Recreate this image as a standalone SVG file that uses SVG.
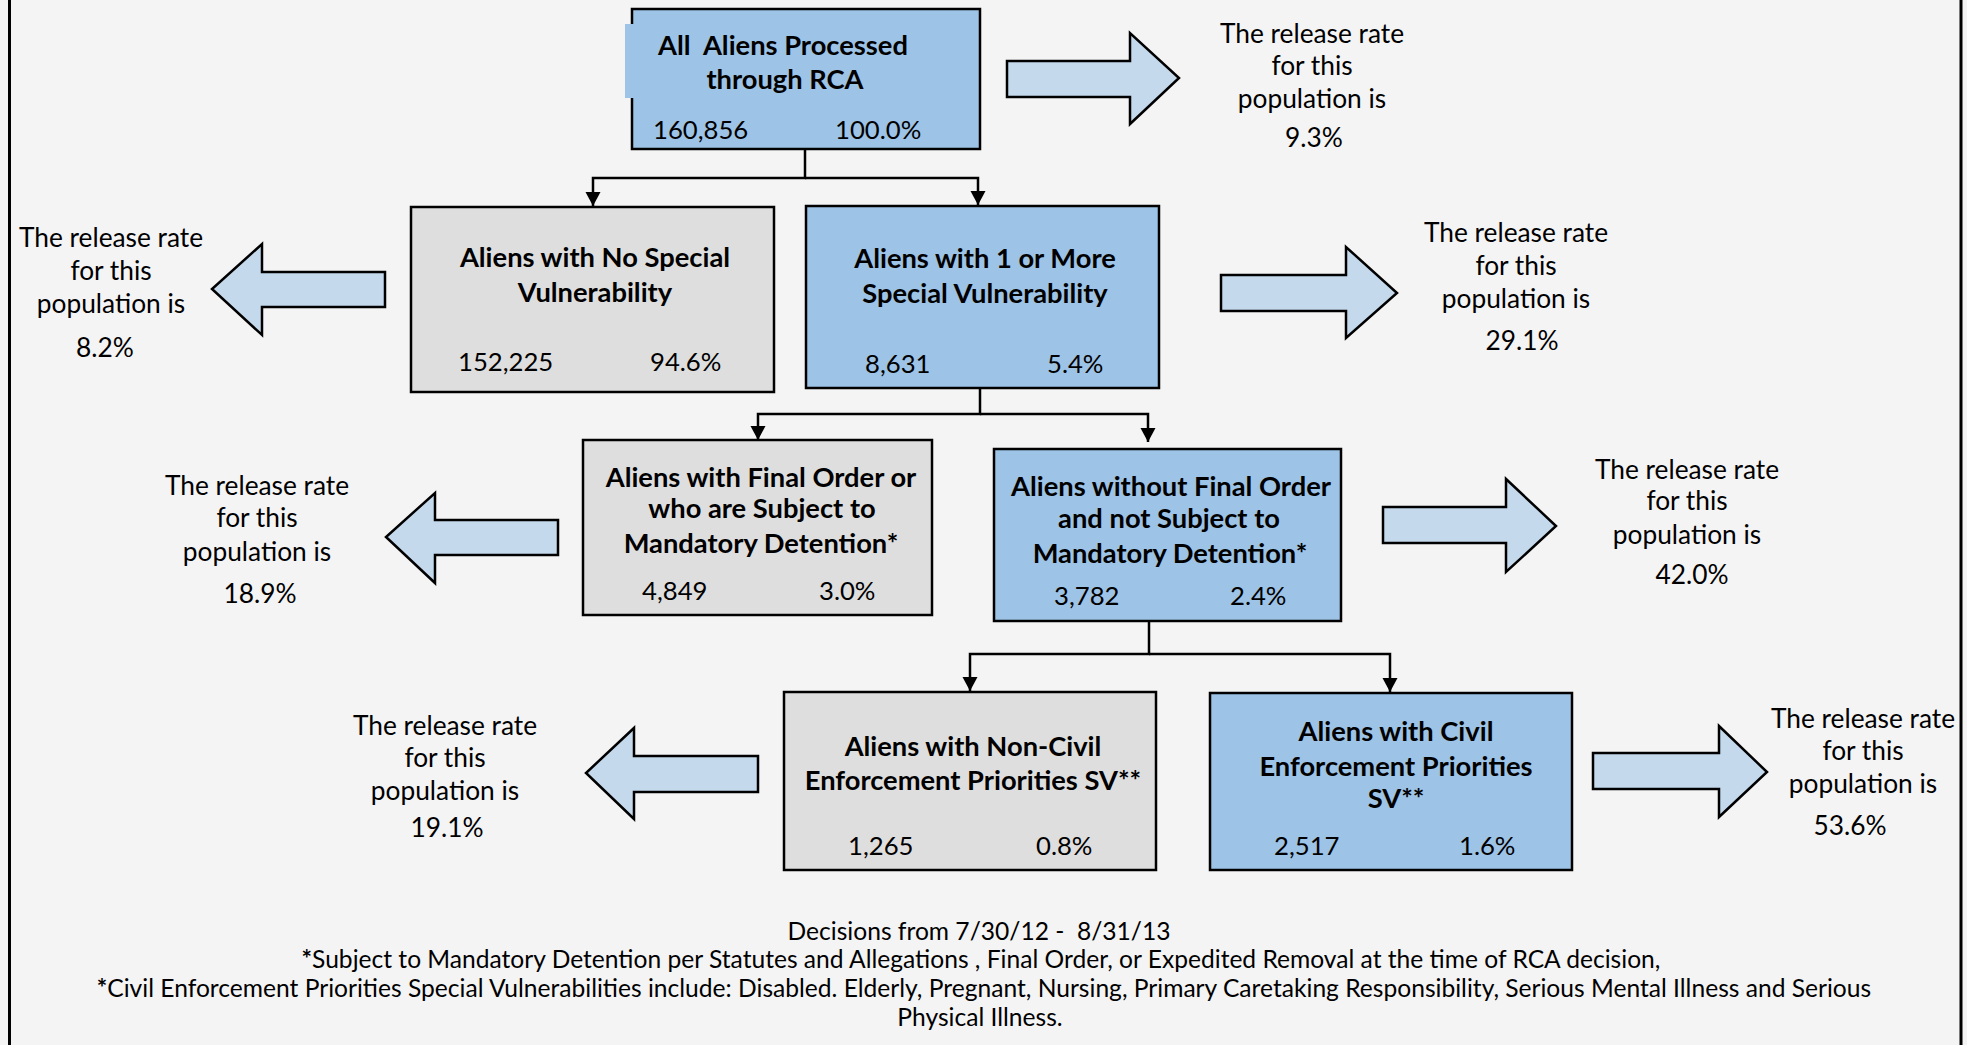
<svg xmlns="http://www.w3.org/2000/svg" width="1967" height="1045" viewBox="0 0 1967 1045">
<defs>
<style>
text{font-family:Lato,"Liberation Sans",sans-serif;fill:#000;white-space:pre;}
.rt{font-size:26.3px;text-anchor:middle;}
.tt{font-size:27.3px;font-weight:bold;text-anchor:middle;}
.num{font-size:25.7px;}
.ft{font-size:24.6px;text-anchor:middle;}
.blue{fill:#9dc3e6;stroke:#000;stroke-width:2.5;}
.gray{fill:#dedede;stroke:#000;stroke-width:2.5;}
.barrow{fill:#c5d9ed;stroke:#000;stroke-width:2.5;stroke-linejoin:miter;}
.conn{fill:none;stroke:#000;stroke-width:2.5;}
</style>
<marker id="ah" markerUnits="userSpaceOnUse" markerWidth="16" markerHeight="16" refX="14" refY="7.5" orient="auto">
<path d="M0,0 L14,7.5 L0,15 z" fill="#000"/>
</marker>
</defs>
<rect x="0" y="0" width="1967" height="1045" fill="#f4f4f4"/>
<rect x="9.5" y="-10" width="1951.5" height="1065" fill="none" stroke="#000" stroke-width="3"/>

<g id="connectors">
<path class="conn" d="M805,149 V178 H593 V206" marker-end="url(#ah)"/>
<path class="conn" d="M805,178 H978 V205" marker-end="url(#ah)"/>
<path class="conn" d="M980,388 V414 H758 V440" marker-end="url(#ah)"/>
<path class="conn" d="M980,414 H1148 V442" marker-end="url(#ah)"/>
<path class="conn" d="M1149,621 V654 H970 V691" marker-end="url(#ah)"/>
<path class="conn" d="M1149,654 H1390 V692" marker-end="url(#ah)"/>
</g>

<g id="node-all">
<rect class="blue" x="632" y="9" width="348" height="140"/>
<rect x="625" y="24" width="9" height="74" fill="#9dc3e6"/>
<text class="tt" x="783" y="55" xml:space="preserve">All  Aliens Processed</text>
<text class="tt" x="785" y="89">through RCA</text>
<text class="num" x="653" y="139">160,856</text>
<text class="num" x="835" y="139">100.0%</text>
</g>

<g id="node-nosv">
<rect class="gray" x="411" y="207" width="363" height="185"/>
<text class="tt" x="595" y="267">Aliens with No Special</text>
<text class="tt" x="595" y="302">Vulnerability</text>
<text class="num" x="458" y="371">152,225</text>
<text class="num" x="650" y="371">94.6%</text>
</g>

<g id="node-sv">
<rect class="blue" x="806" y="206" width="353" height="182"/>
<text class="tt" x="985" y="268">Aliens with 1 or More</text>
<text class="tt" x="985" y="303">Special Vulnerability</text>
<text class="num" x="865" y="373">8,631</text>
<text class="num" x="1047" y="373">5.4%</text>
</g>

<g id="node-final">
<rect class="gray" x="583" y="440" width="349" height="175"/>
<text class="tt" x="761" y="487">Aliens with Final Order or</text>
<text class="tt" x="762" y="518">who are Subject to</text>
<text class="tt" x="761" y="553">Mandatory Detention*</text>
<text class="num" x="642" y="600">4,849</text>
<text class="num" x="819" y="600">3.0%</text>
</g>

<g id="node-nofinal">
<rect class="blue" x="994" y="449" width="347" height="172"/>
<text class="tt" x="1171" y="496">Aliens without Final Order</text>
<text class="tt" x="1169" y="528">and not Subject to</text>
<text class="tt" x="1170" y="563">Mandatory Detention*</text>
<text class="num" x="1054" y="605">3,782</text>
<text class="num" x="1230" y="605">2.4%</text>
</g>

<g id="node-noncivil">
<rect class="gray" x="784" y="692" width="372" height="178"/>
<text class="tt" x="973" y="756">Aliens with Non-Civil</text>
<text class="tt" x="973" y="790">Enforcement Priorities SV**</text>
<text class="num" x="848" y="855">1,265</text>
<text class="num" x="1036" y="855">0.8%</text>
</g>

<g id="node-civil">
<rect class="blue" x="1210" y="693" width="362" height="177"/>
<text class="tt" x="1396" y="741">Aliens with Civil</text>
<text class="tt" x="1396" y="776">Enforcement Priorities</text>
<text class="tt" x="1396" y="808">SV**</text>
<text class="num" x="1274" y="855">2,517</text>
<text class="num" x="1459" y="855">1.6%</text>
</g>

<g id="rate-all">
<polygon class="barrow" points="1007,61 1130,61 1130,33 1179,78 1130,124 1130,97 1007,97"/>
<text class="rt" x="1312" y="43">The release rate</text>
<text class="rt" x="1312" y="75">for this</text>
<text class="rt" x="1312" y="108">population is</text>
<text class="rt" x="1314" y="147">9.3%</text>
</g>

<g id="rate-nosv">
<polygon class="barrow" points="385,272 262,272 262,244 212,289 262,335 262,307 385,307"/>
<text class="rt" x="111" y="247">The release rate</text>
<text class="rt" x="111" y="280">for this</text>
<text class="rt" x="111" y="313">population is</text>
<text class="rt" x="105" y="357">8.2%</text>
</g>

<g id="rate-sv">
<polygon class="barrow" points="1221,275 1346,275 1346,247 1397,293 1346,338 1346,311 1221,311"/>
<text class="rt" x="1516" y="242">The release rate</text>
<text class="rt" x="1516" y="275">for this</text>
<text class="rt" x="1516" y="308">population is</text>
<text class="rt" x="1522" y="350">29.1%</text>
</g>

<g id="rate-final">
<polygon class="barrow" points="558,520 435,520 435,493 386,537 435,583 435,555 558,555"/>
<text class="rt" x="257" y="495">The release rate</text>
<text class="rt" x="257" y="527">for this</text>
<text class="rt" x="257" y="561">population is</text>
<text class="rt" x="260" y="603">18.9%</text>
</g>

<g id="rate-nofinal">
<polygon class="barrow" points="1383,507 1506,507 1506,479 1556,526 1506,572 1506,543 1383,543"/>
<text class="rt" x="1687" y="479">The release rate</text>
<text class="rt" x="1687" y="510">for this</text>
<text class="rt" x="1687" y="544">population is</text>
<text class="rt" x="1692" y="584">42.0%</text>
</g>

<g id="rate-noncivil">
<polygon class="barrow" points="758,756 634,756 634,728 586,773 634,819 634,792 758,792"/>
<text class="rt" x="445" y="735">The release rate</text>
<text class="rt" x="445" y="767">for this</text>
<text class="rt" x="445" y="800">population is</text>
<text class="rt" x="447" y="837">19.1%</text>
</g>

<g id="rate-civil">
<polygon class="barrow" points="1593,753 1719,753 1719,726 1767,772 1719,817 1719,789 1593,789"/>
<text class="rt" x="1863" y="728">The release rate</text>
<text class="rt" x="1863" y="760">for this</text>
<text class="rt" x="1863" y="793">population is</text>
<text class="rt" x="1850" y="835">53.6%</text>
</g>

<g id="footer">
<text class="ft" x="979" y="940" xml:space="preserve">Decisions from 7/30/12 -  8/31/13</text>
<text class="ft" x="981" y="968"><tspan font-weight="bold">*</tspan>Subject to Mandatory Detention per Statutes and Allegations , Final Order, or Expedited Removal at the time of RCA decision,</text>
<text class="ft" x="984" y="997"><tspan font-weight="bold">*</tspan>Civil Enforcement Priorities Special Vulnerabilities include: Disabled. Elderly, Pregnant, Nursing, Primary Caretaking Responsibility, Serious Mental Illness and Serious</text>
<text class="ft" x="980" y="1026">Physical Illness.</text>
</g>
</svg>
